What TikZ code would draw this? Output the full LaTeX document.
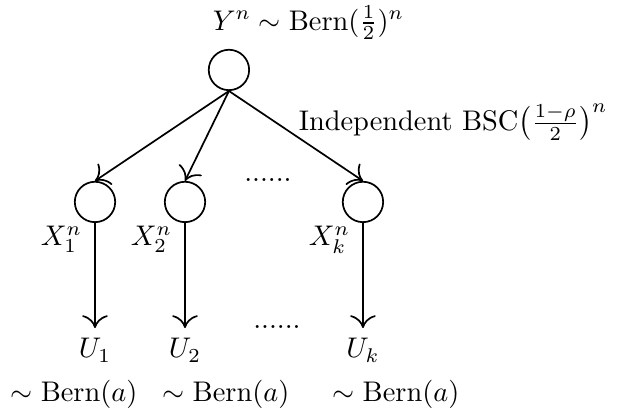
\documentclass[tikz,border=0pt]{standalone}
\usepackage{amsmath,amssymb}
\usetikzlibrary{arrows.meta,positioning}

\begin{document}
\begin{tikzpicture}[semithick,>={To[length=4.5pt,width=9pt]},
    var/.style={draw,circle,minimum size=0.5cm,inner sep=0pt},
    lab/.style={inner sep=0pt,xshift=1pt,yshift=-3pt}]
  \useasboundingbox (0,0) rectangle (7.65,5.074);
  % Source sequence
  \node[var] (Y) at (2.834,4.208) {};
  \node[anchor=west] (Ylab) at (2.506,4.79) {$Y^n\sim\mathrm{Bern}(\frac{1}{2})^n$};
  % Noisy copies and their bits
  \foreach \i/\xx/\sub in {1/1.176/1,2/2.290/2,k/4.493/k} {
    \node[var,label={[lab,name=Xl\i]below left:$X_{\sub}^n$}] (X\i) at (\xx,2.574) {};
    \node[below=1.3cm of X\i] (U\i) {$U_{\sub}$};
    \draw[->] (Y.south) -- (X\i.north);
    \draw[->] (X\i) -- (U\i);
  }
  \node[anchor=west] (chan) at (3.571,3.564) {Independent BSC$\left(\frac{1-\rho}{2}\right)^n$};
  % Dots
  \node (dotsX) at (3.317,2.847) {......};
  \node (dotsU) at (3.428,1.027) {......};
  % Marginals
  \foreach \i/\xx in {1/0.006,2/1.887,k/3.991}
    \node[anchor=west] (B\i) at (\xx,0.186) {$\sim\mathrm{Bern}(a)$};
\end{tikzpicture}
\end{document}
